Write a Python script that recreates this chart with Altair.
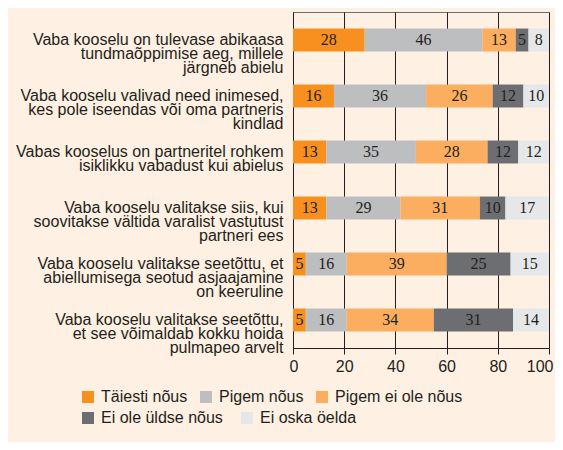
import altair as alt
import pandas as pd

questions = [
    "Vaba kooselu on tulevase abikaasa|tundmaõppimise aeg, millele|järgneb abielu",
    "Vaba kooselu valivad need inimesed,|kes pole iseendas või oma partneris|kindlad",
    "Vabas kooselus on partneritel rohkem|isiklikku vabadust kui abielus",
    "Vaba kooselu valitakse siis, kui|soovitakse  vältida varalist vastutust|partneri ees",
    "Vaba kooselu valitakse seetõttu, et|abiellumisega seotud asjaajamine|on keeruline",
    "Vaba kooselu valitakse seetõttu,|et see  võimaldab kokku hoida|pulmapeo arvelt",
]
categories = ["Täiesti nõus", "Pigem nõus", "Pigem ei ole nõus", "Ei ole üldse nõus", "Ei oska öelda"]
colors = ["#F7901E", "#BCBEC0", "#FBAE5F", "#6D6E71", "#E6E7E9"]

taiesti = [28, 16, 13, 13, 5, 5]
pigem = [46, 36, 35, 29, 16, 16]
pigem_ei = [13, 26, 28, 31, 39, 34]
ei_ole = [5, 12, 12, 10, 25, 31]
ei_oska = [8, 10, 12, 17, 15, 14]
series = [taiesti, pigem, pigem_ei, ei_ole, ei_oska]
x_ticks = [0, 20, 40, 60, 80, 100]

rows = []
for ci, (cat, vals) in enumerate(zip(categories, series)):
    for qi, q in enumerate(questions):
        rows.append({"question": q, "category": cat, "value": vals[qi], "order": ci})
df = pd.DataFrame(rows)

FONT = "Liberation Sans"
DARK = "#231F20"

base = alt.Chart(df).transform_stack(
    stack="value", as_=["start", "end"], groupby=["question"],
    sort=[alt.SortField("order", order="ascending")]
).transform_calculate(mid="(datum.start + datum.end) / 2")

y_enc = alt.Y(
    "question:N", sort=questions, title=None,
    scale=alt.Scale(paddingInner=0.59, paddingOuter=0.295),
    axis=alt.Axis(
        labelExpr="split(datum.label, '|')", labelFont=FONT, labelFontSize=16,
        labelColor=DARK, labelLineHeight=14, labelPadding=10, ticks=False,
        domain=True, domainColor=DARK, labelLimit=400, labelAlign="right",
        labelBaseline="middle", grid=False,
    ),
)

x_enc = alt.X("start:Q", title=None,
              scale=alt.Scale(domain=[0, 100], nice=False),
              axis=alt.Axis(values=x_ticks, grid=True, gridColor=DARK, gridOpacity=1,
                            gridWidth=1, tickSize=6, tickColor=DARK, domainColor=DARK,
                            labelFont=FONT, labelFontSize=16, labelColor=DARK,
                            labelPadding=4, labelFlush=True, labelFlushOffset=4))


def legend(y, pad):
    return alt.Legend(
        title=None, orient="none", legendX=-213, legendY=y,
        direction="horizontal", symbolType="square", symbolSize=144,
        symbolStrokeWidth=0, labelFont=FONT, labelFontSize=16, labelColor=DARK,
        labelOffset=5, columnPadding=pad, padding=0, labelLimit=300)


cats1 = categories[:3]
cats2 = categories[3:]

bars1 = base.transform_filter(alt.FieldOneOfPredicate(field="category", oneOf=cats1)).mark_bar(strokeWidth=0).encode(
    x=x_enc, x2="end:Q", y=y_enc,
    color=alt.Color("category:N", sort=cats1,
                    scale=alt.Scale(domain=cats1, range=colors[:3]),
                    legend=legend(377, 10)),
)

bars2 = base.transform_filter(alt.FieldOneOfPredicate(field="category", oneOf=cats2)).mark_bar(strokeWidth=0).encode(
    x=x_enc, x2="end:Q", y=y_enc,
    fill=alt.Fill("category:N", sort=cats2,
                  scale=alt.Scale(domain=cats2, range=colors[3:]),
                  legend=legend(398, 16)),
)

texts = base.mark_text(font="Liberation Sans Narrow", fontSize=16, color=DARK,
                       baseline="middle", align="center").encode(
    x=alt.X("mid:Q"),
    y=alt.Y("question:N", sort=questions),
    text="value:Q",
)

chart = alt.layer(bars1, bars2, texts).properties(
    width=256, height=336,
    autosize=alt.AutoSizeParams(type="none"),
    padding={"left": 285, "top": 4, "right": 6, "bottom": 94},
    background="#FEF0E2",
).configure_view(stroke="#6D6E71", strokeWidth=1)

chart.save("out.html", embed_options={"renderer": "svg", "actions": False})
